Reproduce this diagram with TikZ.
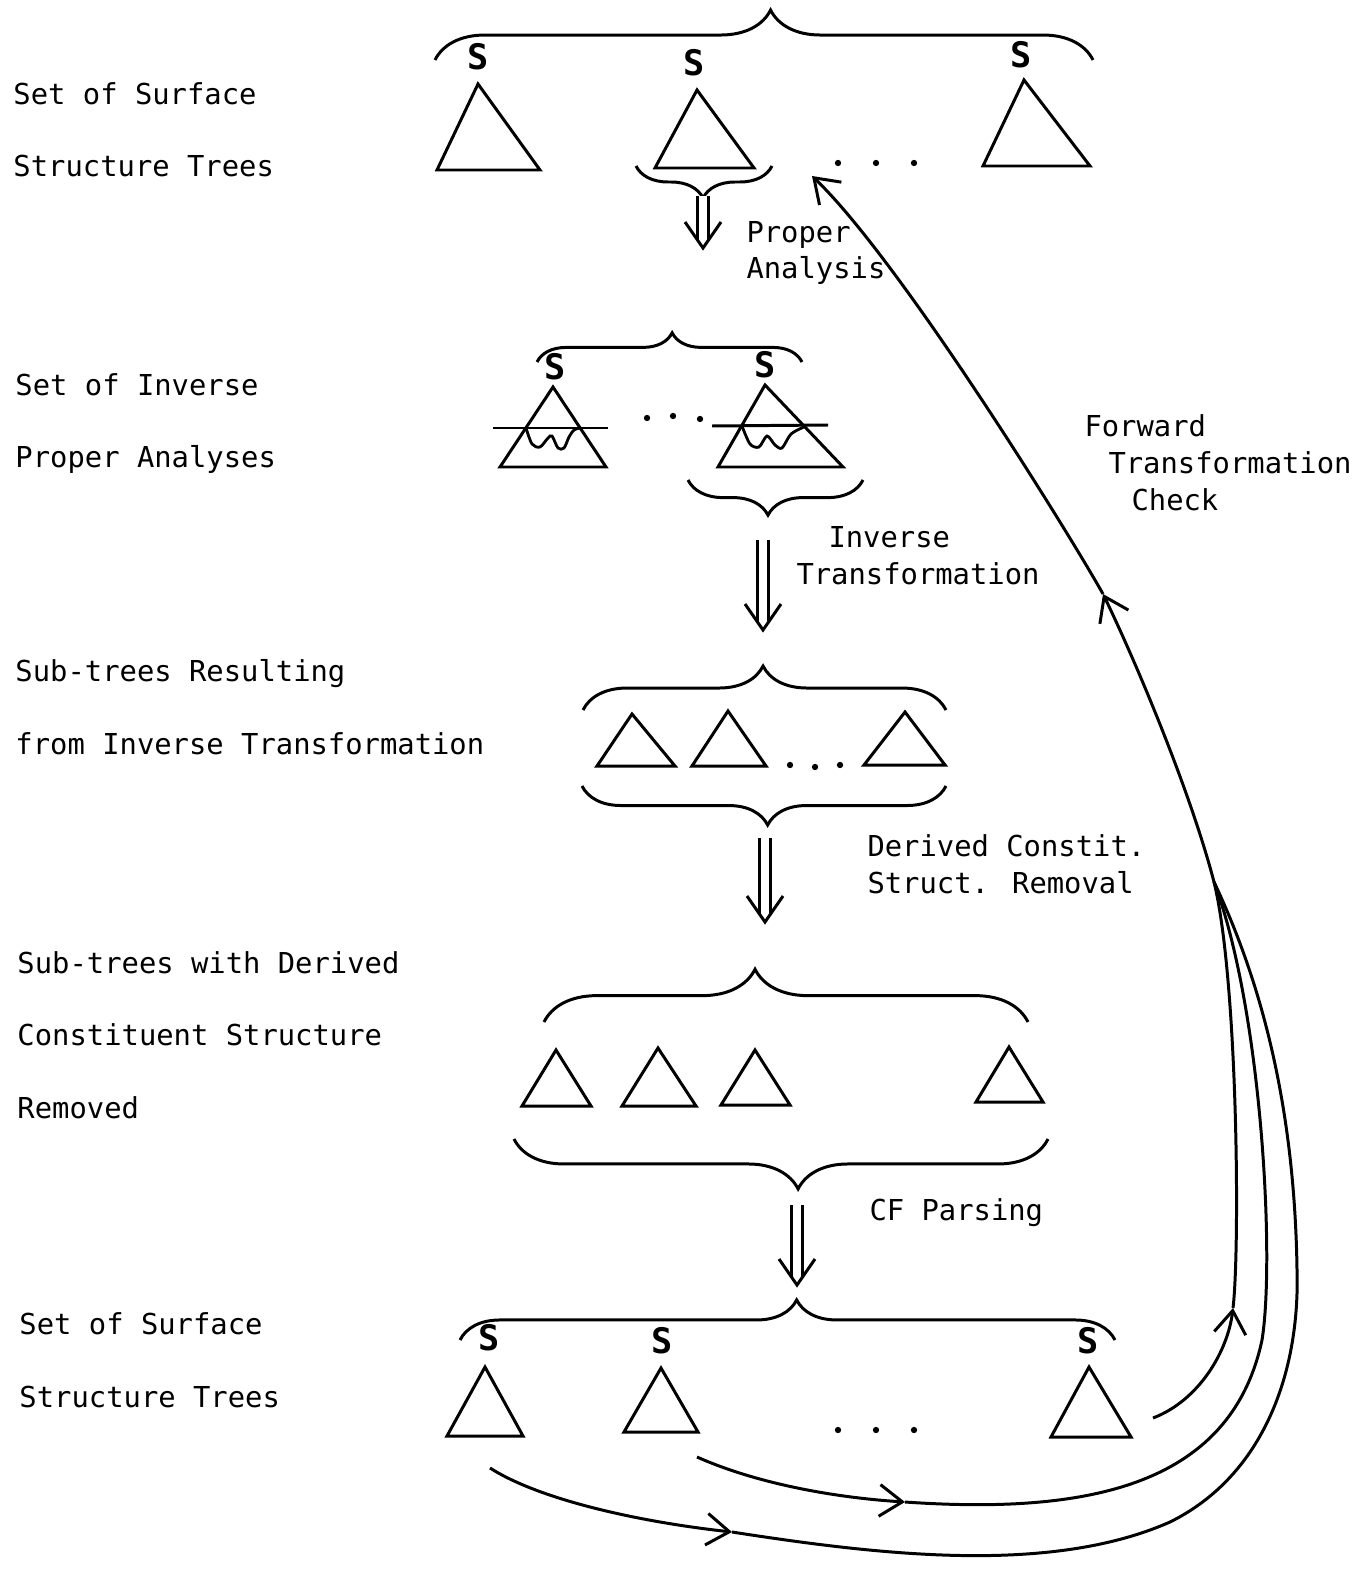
\documentclass[tikz,border=0pt]{standalone}
\usepackage{fontspec}
\newfontfamily\typefont{DejaVu Sans Mono}
\usetikzlibrary{arrows.meta,calc,decorations.pathreplacing}

\begin{document}
\begin{tikzpicture}[x=0.01cm, y=-0.01cm, line width=0.85pt,
  lbl/.style={anchor=base west, align=left, inner sep=0pt, font=\typefont\fontsize{8.2}{20.5}\selectfont},
  note/.style={anchor=base west, align=left, inner sep=0pt, font=\typefont\fontsize{8.2}{10.4}\selectfont},
  sym/.style={inner sep=0pt, font=\typefont\bfseries\fontsize{10}{12}\selectfont},
  brc/.style 2 args={decorate, decoration={brace, amplitude=#1, aspect=#2}},
  arr/.style={-{Straight Barb[length=6.5pt,width=9pt]}},
  shaft/.style={double, double distance=2.4pt, line width=0.8pt},
  dot/.style={circle, fill, inner sep=0pt, minimum size=1.8pt}]
\fill[white] (0,0) rectangle (1367,1573);
\useasboundingbox (0,0) rectangle (1367,1573);

% Left column (base = last line)
\node[lbl] (surf-top) at (12,177) {Set of Surface\\Structure Trees};
\node[lbl] (inv-pa) at (14,468) {Set of Inverse\\Proper Analyses};
\node[lbl] (sub-res) at (14,754) {Sub-trees Resulting\\from Inverse Transformation};
\node[lbl] (sub-rem) at (16,1118) {Sub-trees with Derived\\Constituent Structure\\Removed};
\node[lbl] (surf-bot) at (18,1407) {Set of Surface\\Structure Trees};

% Surface structure trees (top)
\draw[brc={14.2pt}{0.51}] (435,60) -- (1093,60);
\foreach \n/\x/\y in {sa/478/57, sb/694/63, sc/1021/55}
  \node[sym] (\n) at (\x,\y) {S};
\foreach \ax/\ay/\bl/\br/\by in {478/84/437/540/170, 697/90/655/754/168, 1024/80/983/1090/166}
  \draw (\ax,\ay) -- (\br,\by) -- (\bl,\by) -- cycle;
\foreach \x in {838,876,914}
  \node[dot] at (\x,163) {};
\draw[brc={9.1pt}{0.507}] (772,166) -- (636,166);

% Inverse proper analyses
\draw[brc={8.3pt}{0.51}] (537,362) -- (802,362);
\foreach \n/\x/\y in {sd/555/367, se/765/365}
  \node[sym] (\n) at (\x,\y) {S};
\foreach \ax/\ay/\bl/\br/\by in {553/387/500/606/467, 765/385/718/843/467}
  \draw (\ax,\ay) -- (\br,\by) -- (\bl,\by) -- cycle;
\draw (493,428) -- (608,428);
\draw (712,426) -- (828,425);
\draw[line width=0.8pt] plot[smooth] coordinates {(526,428) (532,444) (540,447) (548,438) (552,436) (558,448) (564,448) (569,437) (574,430) (580,428)};
\draw[line width=0.8pt] plot[smooth] coordinates {(742,426) (750,444) (759,447) (767,436) (775,445) (782,448) (791,434) (804,427)};
\foreach \x/\y in {647/418, 673/416, 700/419}
  \node[dot] at (\x,\y) {};
\draw[brc={10pt}{0.543}] (863,480) -- (688,480);

% Sub-trees from inverse transformation
\draw[brc={12.5pt}{0.496}] (583,710) -- (946,710);
\foreach \ax/\ay/\bl/\br/\by in {632/714/597/675/766, 728/711/692/766/766, 905/712/864/945/765}
  \draw (\ax,\ay) -- (\br,\by) -- (\bl,\by) -- cycle;
\foreach \x/\y in {790/765, 815/767, 840/765}
  \node[dot] at (\x,\y) {};
\draw[brc={11.1pt}{0.49}] (946,786) -- (582,786);

% Sub-trees with derived structure removed
\draw[brc={15pt}{0.436}] (544,1022) -- (1028,1022);
\foreach \ax/\ay/\bl/\br/\by in {556/1050/522/591/1106, 658/1048/622/696/1106, 755/1050/721/790/1105, 1009/1047/976/1043/1102}
  \draw (\ax,\ay) -- (\br,\by) -- (\bl,\by) -- cycle;
\draw[brc={14.2pt}{0.468}] (1048,1139) -- (514,1139);

% Surface structure trees (bottom)
\draw[brc={11.4pt}{0.514}] (460,1340) -- (1115,1340);
\foreach \n/\x/\y in {sf/489/1338, sg/662/1341, sh/1088/1341}
  \node[sym] (\n) at (\x,\y) {S};
\foreach \ax/\ay/\bl/\br/\by in {485/1367/447/523/1436, 661/1368/624/698/1432, 1089/1367/1051/1131/1437}
  \draw (\ax,\ay) -- (\br,\by) -- (\bl,\by) -- cycle;
\foreach \x in {838,876,914}
  \node[dot] at (\x,1430) {};

% Double arrows between the stages
\foreach \n/\x/\ya/\yb in {pa/703/196/248, it/763/540/630, dr/765/838/922, cf/797/1205/1285}{
  \coordinate (\n-top) at (\x,\ya);
  \coordinate (\n-tip) at (\x,\yb);
  \draw[shaft] (\n-top) -- ($(\n-tip)+(0,-9)$);
  \draw (\n-tip) ++(-18,-26) -- (\n-tip) -- ++(18,-26);
}
\node[note] (pa-lbl) at (745,279) {Proper\\Analysis};
\node[note] (it-lbl) at (795,584) {\hspace*{0.32cm}Inverse\\Transformation};
\node[note] (dr-lbl) at (866,893) {Derived Constit.\\Struct. Removal};
\node[note] (cf-lbl) at (868,1220) {CF Parsing};
\node[note] (fc-lbl) at (1083,510) {Forward\\\hspace*{0.24cm}Transformation\\\hspace*{0.47cm}Check};

% Forward transformation check
\coordinate (fc-tip) at (812,176);
\coordinate (fc-mid) at (1103,594);
\coordinate (fc-join) at (1214,882);
\coordinate (c1-out) at (490,1468);
\coordinate (c1-mid) at (732,1532);
\coordinate (c2-out) at (697,1457);
\coordinate (c2-mid) at (905,1502);
\coordinate (c3-out) at (1153,1418);
\coordinate (c3-mid) at (1233,1308);
\draw[arr] (fc-join) .. controls (1190,790) and (1135,660) .. (fc-mid);
\draw[arr] (fc-mid) .. controls (1070,535) and (900,260) .. (fc-tip);
\draw[arr] (c3-out) .. controls (1200,1400) and (1228,1350) .. (c3-mid);
\draw (c3-mid) .. controls (1240,1250) and (1238,980) .. (fc-join);
\draw[arr] (c2-out) .. controls (760,1485) and (840,1498) .. (c2-mid);
\draw (c2-mid) .. controls (1080,1514) and (1230,1490) .. (1262,1340)
  .. controls (1275,1260) and (1262,1010) .. (fc-join);
\draw[arr] (c1-out) .. controls (540,1500) and (640,1522) .. (c1-mid);
\draw (c1-mid) .. controls (880,1555) and (1050,1575) .. (1170,1522)
  .. controls (1265,1475) and (1300,1370) .. (1297,1270)
  .. controls (1295,1130) and (1270,1000) .. (fc-join);
\end{tikzpicture}
\end{document}
